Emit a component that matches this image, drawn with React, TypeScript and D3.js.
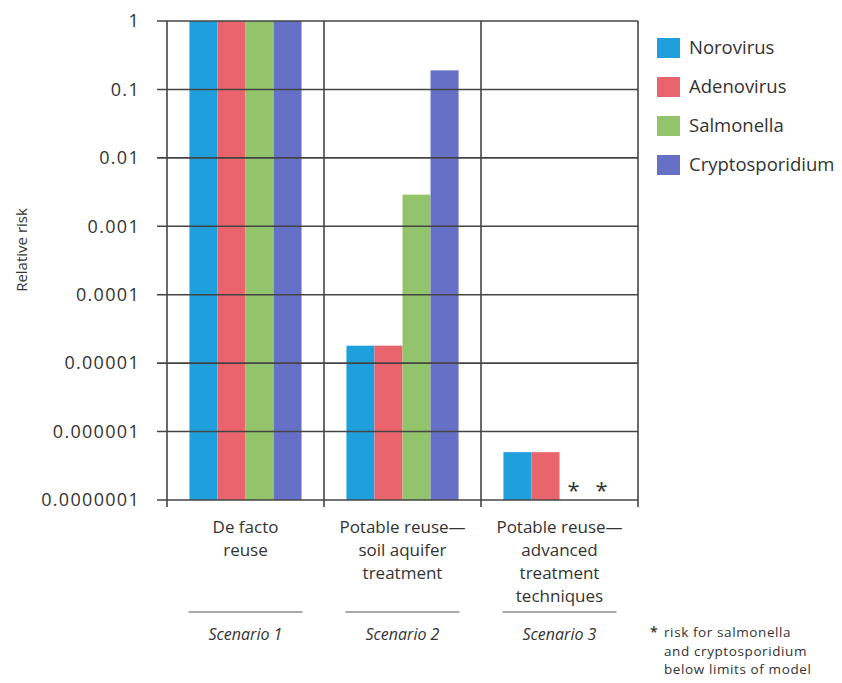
import React from "react";
import * as d3 from "d3";

// Scenarios along the x axis
const scenarios = ["s1", "s2", "s3"];
const categoryLines = [
  ["De facto", "reuse"],
  ["Potable reuse—", "soil aquifer", "treatment"],
  ["Potable reuse—", "advanced", "treatment", "techniques"],
];
const scenarioNames = ["Scenario 1", "Scenario 2", "Scenario 3"];

// Pathogens (series)
const pathogens = ["Norovirus", "Adenovirus", "Salmonella", "Cryptosporidium"];
const colors = ["#1f9fdc", "#e9646c", "#93c36a", "#6670c6"];

// Relative risk per scenario, null = below limits of model
const norovirus = [1, 1.8e-5, 5e-7];
const adenovirus = [1, 1.8e-5, 5e-7];
const salmonella = [1, 2.9e-3, null];
const cryptosporidium = [1, 0.19, null];
const seriesValues = [norovirus, adenovirus, salmonella, cryptosporidium];

const yTicks = [1, 0.1, 0.01, 0.001, 0.0001, 0.00001, 0.000001, 0.0000001];
const yTickLabels = ["1", "0.1", "0.01", "0.001", "0.0001", "0.00001", "0.000001", "0.0000001"];

const footnote = ["risk for salmonella", "and cryptosporidium", "below limits of model"];

export default function App() {
  const W = 842;
  const H = 683;
  const left = 167;
  const right = 638;
  const top = 21;
  const bottom = 500;

  const y = d3.scaleLog().domain([1e-7, 1]).range([bottom, top]);
  const x0 = d3.scaleBand<string>().domain(scenarios).range([left, right]).padding(0);
  const x1 = d3
    .scaleBand<string>()
    .domain(pathogens)
    .range([0, x0.bandwidth()])
    .paddingInner(0)
    .paddingOuter(0.8);

  const font = "'Open Sans', 'Noto Sans', sans-serif";
  const grid = "#444";

  return (
    <svg width={W} height={H} style={{ position: "absolute", left: 0, top: 0, background: "#fff" }}>
      {/* bars */}
      {scenarios.map((s, gi) =>
        pathogens.map((p, si) => {
          const v = seriesValues[si][gi];
          const bx = (x0(s) as number) + (x1(p) as number);
          if (v == null) {
            return (
              <text
                key={s + p}
                x={bx + x1.bandwidth() / 2}
                y={bottom - 2}
                textAnchor="middle"
                fontFamily={font}
                fontSize={22}
                fill="#333"
              >
                *
              </text>
            );
          }
          return (
            <rect
              key={s + p}
              x={bx}
              y={y(v)}
              width={x1.bandwidth()}
              height={bottom - y(v)}
              fill={colors[si]}
            />
          );
        })
      )}

      {/* horizontal gridlines with left tick stubs */}
      {yTicks.map((t) => (
        <line key={t} x1={157} x2={right} y1={y(t)} y2={y(t)} stroke={grid} strokeWidth={1.6} />
      ))}
      {/* vertical dividers */}
      {scenarios.map((s) => (
        <line
          key={s}
          x1={x0(s) as number}
          x2={x0(s) as number}
          y1={top}
          y2={bottom + 7}
          stroke={grid}
          strokeWidth={1.6}
        />
      ))}
      <line x1={right} x2={right} y1={top} y2={bottom + 7} stroke={grid} strokeWidth={1.6} />

      {/* y tick labels */}
      {yTicks.map((t, i) => (
        <text
          key={t}
          x={140}
          y={y(t)}
          dy="0.35em"
          textAnchor="end"
          fontFamily={font}
          fontSize={18}
          letterSpacing={1.3}
          fill="#333"
        >
          {yTickLabels[i]}
        </text>
      ))}

      {/* y axis title */}
      <text
        transform={`translate(27, 250) rotate(-90)`}
        textAnchor="middle"
        fontFamily={font}
        fontSize={15}
        fill="#333"
      >
        Relative risk
      </text>

      {/* category labels */}
      {scenarios.map((s, gi) => {
        const cx = (x0(s) as number) + x0.bandwidth() / 2;
        return (
          <g key={s}>
            {categoryLines[gi].map((ln, li) => (
              <text
                key={li}
                x={cx}
                y={533 + li * 23}
                textAnchor="middle"
                fontFamily={font}
                fontSize={17}
                fill="#333"
              >
                {ln}
              </text>
            ))}
            <line x1={cx - 57} x2={cx + 57} y1={612} y2={612} stroke="#555" strokeWidth={1.2} />
            <text
              x={cx}
              y={640}
              textAnchor="middle"
              fontFamily={font}
              fontSize={16}
              fontStyle="italic"
              fill="#333"
            >
              {scenarioNames[gi]}
            </text>
          </g>
        );
      })}

      {/* legend */}
      {pathogens.map((p, i) => (
        <g key={p} transform={`translate(657, ${38 + i * 39})`}>
          <rect width={23} height={20} fill={colors[i]} />
          <text x={32} y={10} dy="0.35em" fontFamily={font} fontSize={18.5} fill="#333">
            {p}
          </text>
        </g>
      ))}

      {/* footnote */}
      <text x={650} y={637} fontFamily={font} fontSize={14} fontWeight={600} fill="#333">
        *
      </text>
      {footnote.map((ln, i) => (
        <text
          key={i}
          x={664}
          y={637 + i * 18.5}
          fontFamily={font}
          fontSize={13.5}
          letterSpacing={0.6}
          fill="#333"
        >
          {ln}
        </text>
      ))}
    </svg>
  );
}
